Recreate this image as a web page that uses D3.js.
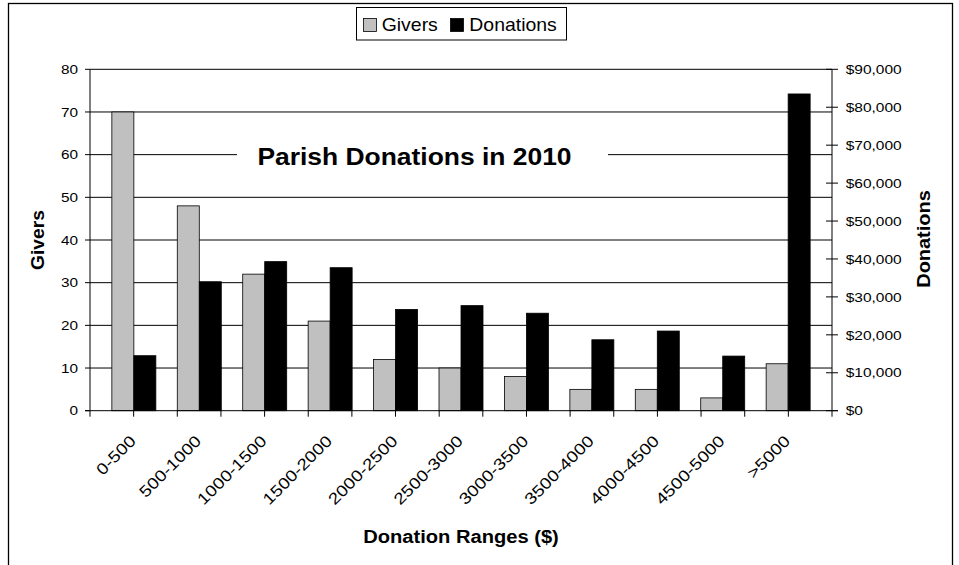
<!DOCTYPE html>
<html><head><meta charset="utf-8">
<script src="https://cdn.jsdelivr.net/npm/d3@7"></script>
<style>body{margin:0;background:#fff}text{font-family:"Liberation Sans",Arial,sans-serif;fill:#000}</style>
</head><body><svg id="c" width="959" height="565"></svg>
<script>
const categories = ["0-500","500-1000","1000-1500","1500-2000","2000-2500","2500-3000","3000-3500","3500-4000","4000-4500","4500-5000",">5000"];
const givers = [70,48,32,21,12,10,8,5,5,3,11];
const donations = [14500,34000,39300,37700,26700,27700,25700,18700,21000,14400,83500];
const giverTicks = [0,10,20,30,40,50,60,70,80];
const donationTicks = [0,10000,20000,30000,40000,50000,60000,70000,80000,90000];
const seriesNames = ["Givers","Donations"];
const seriesColors = ["#c0c0c0","#000000"];
const chartTitle = "Parish Donations in 2010";
const xTitle = "Donation Ranges ($)";

const svg = d3.select("#c");
const L = 90, R = 832, T = 69.3, B = 410.7;

function stretch(sel, k){
  sel.each(function(){
    const len = this.getComputedTextLength();
    d3.select(this).attr("textLength", len*k).attr("lengthAdjust","spacingAndGlyphs");
  });
}

// outer frame
svg.append("rect").attr("x",8.5).attr("y",3.5).attr("width",944).attr("height",620)
  .attr("fill","#fff").attr("stroke","#000").attr("stroke-width",1.3);

const x = d3.scaleBand().domain(categories).range([L,R]).paddingInner(0.3275).paddingOuter(0.334);
const yL = d3.scaleLinear().domain([0,80]).range([B,T]);
const yR = d3.scaleLinear().domain([0,90000]).range([B,T]);
const bw = x.bandwidth()/2;

// gridlines
svg.append("g").selectAll("line").data(giverTicks.filter(d=>d>0)).join("line")
  .attr("x1",L).attr("x2",R).attr("y1",d=>yL(d)).attr("y2",d=>yL(d))
  .attr("stroke","#000").attr("stroke-width",1);

// title with white background
svg.append("rect").attr("x",237).attr("y",142).attr("width",371).attr("height",30).attr("fill","#fff");
svg.append("text").attr("x",414.5).attr("y",165).attr("text-anchor","middle")
  .style("font-size","24.7px").style("font-weight","bold").text(chartTitle).call(stretch,1.07);

// bars
const g = svg.append("g");
g.selectAll("rect.giv").data(categories).join("rect").attr("class","giv")
  .attr("x",d=>x(d)).attr("width",bw)
  .attr("y",(d,i)=>yL(givers[i])).attr("height",(d,i)=>B-yL(givers[i]))
  .attr("fill",seriesColors[0]).attr("stroke","#000").attr("stroke-width",0.8);
g.selectAll("rect.don").data(categories).join("rect").attr("class","don")
  .attr("x",d=>x(d)+bw).attr("width",bw)
  .attr("y",(d,i)=>yR(donations[i])).attr("height",(d,i)=>B-yR(donations[i]))
  .attr("fill",seriesColors[1]).attr("stroke","#000").attr("stroke-width",0.8);

// axes lines
svg.append("line").attr("x1",L).attr("x2",L).attr("y1",T).attr("y2",B).attr("stroke","#000");
svg.append("line").attr("x1",R).attr("x2",R).attr("y1",T).attr("y2",B).attr("stroke","#000");
svg.append("line").attr("x1",L-5).attr("x2",R+6).attr("y1",B).attr("y2",B).attr("stroke","#000");

// left ticks
const lt = svg.append("g");
lt.selectAll("line").data(giverTicks).join("line")
  .attr("x1",L-5).attr("x2",L).attr("y1",d=>yL(d)).attr("y2",d=>yL(d)).attr("stroke","#000");
lt.selectAll("text").data(giverTicks).join("text")
  .attr("x",78).attr("y",d=>yL(d)).attr("dy","0.36em").attr("text-anchor","end")
  .style("font-size","13px").text(d=>d).call(stretch,1.18);

// right ticks
const rt = svg.append("g");
const fmt = d3.format("$,.0f");
rt.selectAll("line").data(donationTicks).join("line")
  .attr("x1",R-6).attr("x2",R+6).attr("y1",d=>yR(d)).attr("y2",d=>yR(d)).attr("stroke","#000");
rt.selectAll("text").data(donationTicks).join("text")
  .attr("x",845.7).attr("y",d=>yR(d)).attr("dy","0.36em").attr("text-anchor","start")
  .style("font-size","13px").text(d=>fmt(d)).call(stretch,1.19);

// x ticks
const xt = d3.scaleLinear().domain([0,17]).range([L,R]);
svg.append("g").selectAll("line").data(d3.range(18)).join("line")
  .attr("x1",d=>xt(d)).attr("x2",d=>xt(d)).attr("y1",B).attr("y2",B+6).attr("stroke","#000");

// x labels
svg.append("g").selectAll("text").data(categories).join("text")
  .attr("text-anchor","end")
  .attr("transform",d=>`translate(${x(d)+bw+3},442) rotate(-45)`)
  .style("font-size","16px").text(d=>d).call(stretch,1.18);

// axis titles
svg.append("text").attr("x",461).attr("y",543).attr("text-anchor","middle")
  .style("font-size","17.5px").style("font-weight","bold").text(xTitle).call(stretch,1.15);
svg.append("text").attr("transform","translate(43.5,240) rotate(-90)").attr("text-anchor","middle")
  .style("font-size","17.5px").style("font-weight","bold").text(seriesNames[0]).call(stretch,1.1);
svg.append("text").attr("transform","translate(930,239) rotate(-90)").attr("text-anchor","middle")
  .style("font-size","17.5px").style("font-weight","bold").text(seriesNames[1]).call(stretch,1.14);

// legend
const lg = svg.append("g");
lg.append("rect").attr("x",356.5).attr("y",7.5).attr("width",210).attr("height",32.5)
  .attr("fill","#fff").attr("stroke","#000");
const lx = [363, 450], tx = [381.7, 469.3];
seriesNames.forEach((n,i)=>{
  lg.append("rect").attr("x",lx[i]+0.5).attr("y",18.5).attr("width",13).attr("height",13)
    .attr("fill",seriesColors[i]).attr("stroke","#000").attr("stroke-width",0.8);
  lg.append("text").attr("x",tx[i]).attr("y",31).style("font-size","18.5px").text(n).call(stretch,1.05);
});
</script></body></html>
